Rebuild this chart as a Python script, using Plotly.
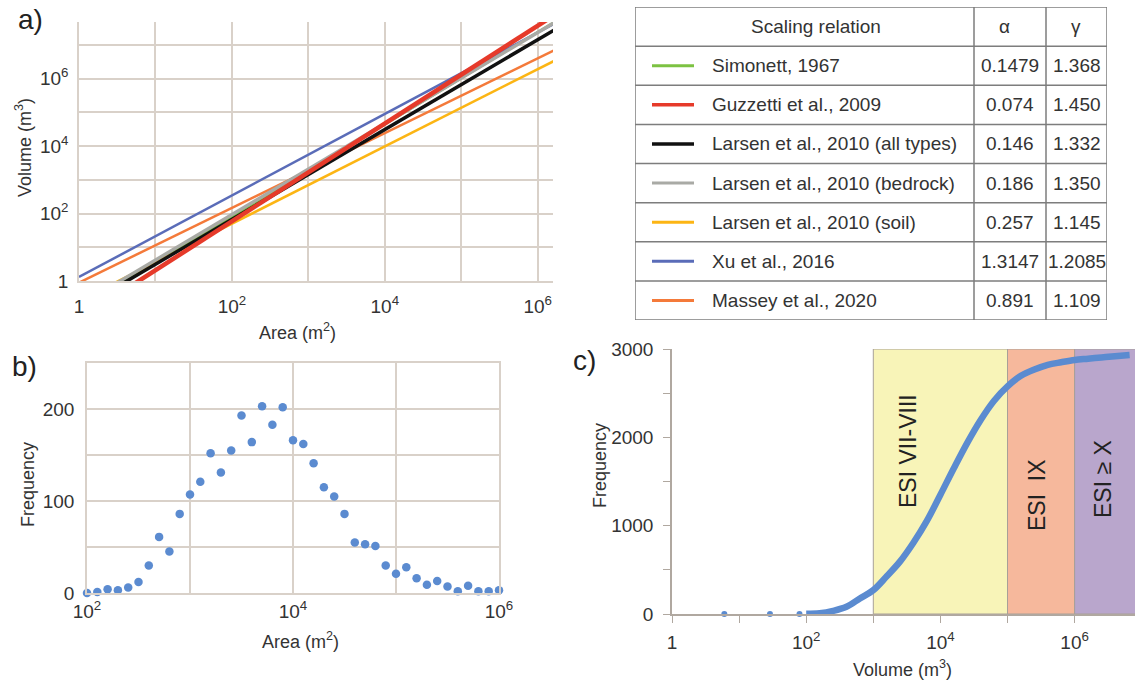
import plotly.graph_objects as go
import numpy as np

W, H = 1135, 684
FONT = "Liberation Sans, Arial, sans-serif"
TXT = "#333333"

# ---------------- data ----------------
relations = ["Simonett, 1967", "Guzzetti et al., 2009", "Larsen et al., 2010 (all types)",
             "Larsen et al., 2010 (bedrock)", "Larsen et al., 2010 (soil)", "Xu et al., 2016",
             "Massey et al., 2020"]
alpha_txt = ["0.1479", "0.074", "0.146", "0.186", "0.257", "1.3147", "0.891"]
gamma_txt = ["1.368", "1.450", "1.332", "1.350", "1.145", "1.2085", "1.109"]
rel_colors = ["#7cc242", "#e63a2a", "#111111", "#a9aaa5", "#fcb514", "#5a6cb8", "#f47a3a"]
rel_widths = [2.5, 4.5, 3.5, 3.5, 2.5, 2.5, 2.5]
draw_order = [0, 4, 6, 5, 3, 2, 1]
area_ends = [1.0, 10 ** 6.25]

# panel b: frequency of landslide area (bins 0.1 decade from 10^2 to 10^6)
area_bin_log = [2.0 + 0.1 * i for i in range(41)]
area_freq = [0, 1, 4, 3, 6, 12, 30, 61, 45, 86, 107, 121, 152, 131, 155, 193, 164, 203, 183, 202,
             166, 162, 141, 115, 105, 86, 55, 53, 51, 30, 21, 28, 16, 9, 13, 7, 2, 8, 2, 2, 3]

# panel c: cumulative frequency vs volume
vol_sparse_log = [0.78, 1.46, 1.90]
vol_sparse_freq = [0, 0, 0]
vol_log = [2.0, 2.2, 2.4, 2.6, 2.8, 3.0, 3.2, 3.4, 3.6, 3.8, 4.0, 4.2, 4.4, 4.6, 4.8, 5.0,
           5.2, 5.4, 5.6, 5.8, 6.0, 6.2, 6.4, 6.6, 6.82]
vol_cum = [2, 8, 35, 82, 176, 270, 427, 596, 810, 1057, 1350, 1650, 1938, 2197, 2415, 2576,
           2696, 2767, 2820, 2850, 2876, 2890, 2904, 2918, 2932]
esi_labels = ["ESI VII-VIII", "ESI\u00a0\u00a0IX", "ESI \u2265 X"]
esi_bounds = [1e3, 1e5, 1e6, 1e8]
esi_colors = ["#f8f4b8", "#f6b89c", "#b9a6cc"]

# ---------------- helpers ----------------
def px_x(p):
    return p / W

def px_y(p):
    return 1 - p / H

fig = go.Figure()

# ---------------- panel a ----------------
for i in draw_order:
    a = float(alpha_txt[i]); g = float(gamma_txt[i])
    xs = np.array(area_ends)
    fig.add_trace(go.Scatter(x=xs, y=a * xs ** g, mode="lines", xaxis="x", yaxis="y",
                             line=dict(color=rel_colors[i], width=rel_widths[i]),
                             hoverinfo="skip", showlegend=False))

# ---------------- panel b ----------------
fig.add_trace(go.Scatter(x=[10 ** v for v in area_bin_log], y=area_freq, mode="markers",
                         xaxis="x2", yaxis="y2", cliponaxis=False,
                         marker=dict(color="#5b8bd0", size=8.5), showlegend=False))

# ---------------- panel c ----------------
for k in range(3):
    fig.add_trace(go.Scatter(x=[esi_bounds[k], esi_bounds[k + 1], esi_bounds[k + 1], esi_bounds[k], esi_bounds[k]],
                             y=[0, 0, 3000, 3000, 0], mode="lines", fill="toself",
                             fillcolor=esi_colors[k], line=dict(color="#a8a098", width=1),
                             xaxis="x3", yaxis="y3", hoverinfo="skip", showlegend=False))
fig.add_trace(go.Scatter(x=[10 ** v for v in vol_log], y=vol_cum, mode="lines",
                         line=dict(color="#5b8bd0", width=6.5, shape="spline"),
                         xaxis="x3", yaxis="y3", showlegend=False))
fig.add_trace(go.Scatter(x=[10 ** v for v in vol_sparse_log], y=vol_sparse_freq, mode="markers",
                         marker=dict(color="#5b8bd0", size=6), cliponaxis=False,
                         xaxis="x3", yaxis="y3", showlegend=False))

# ---------------- table (own axes, pixel units) ----------------
TW = 472
col1, col2 = 339, 411
for i in range(7):
    fig.add_trace(go.Scatter(x=[17, 59], y=[i + 1.5, i + 1.5], mode="lines", xaxis="x4", yaxis="y4",
                             line=dict(color=rel_colors[i], width=3.5 if i in (1, 2) else 3),
                             hoverinfo="skip", showlegend=False))

shapes = []
bc = "#7d7d7d"
shapes.append(dict(type="rect", xref="x4", yref="y4", x0=0, x1=TW, y0=0, y1=8, line=dict(color=bc, width=1.5)))
for r in range(1, 8):
    shapes.append(dict(type="line", xref="x4", yref="y4", x0=0, x1=TW, y0=r, y1=r, line=dict(color=bc, width=1.5)))
for c in (col1, col2):
    shapes.append(dict(type="line", xref="x4", yref="y4", x0=c, x1=c, y0=0, y1=8, line=dict(color=bc, width=1.5)))

ann = []
tf = dict(family=FONT, size=19, color=TXT)
C = dict(showarrow=False, xanchor="center", yanchor="middle")
ann.append(dict(x=181, y=0.5, xref="x4", yref="y4", text="Scaling relation", font=tf, **C))
ann.append(dict(x=369, y=0.5, xref="x4", yref="y4", text="α", font=tf, **C))
ann.append(dict(x=441, y=0.5, xref="x4", yref="y4", text="γ", font=tf, **C))
for i in range(7):
    ann.append(dict(x=75, y=i + 1.5, xref="x4", yref="y4", text=relations[i], showarrow=False,
                    xanchor="left", yanchor="middle", font=tf))
    ann.append(dict(x=375, y=i + 1.5, xref="x4", yref="y4", text=alpha_txt[i], font=tf, **C))
    ann.append(dict(x=441.5, y=i + 1.5, xref="x4", yref="y4", text=gamma_txt[i], font=tf, **C))

# panel labels
lf = dict(family=FONT, size=28, color="#222222")
for t, x, y in [("a)", 30, 20), ("b)", 24, 366), ("c)", 584, 360)]:
    ann.append(dict(x=px_x(x), y=px_y(y), xref="paper", yref="paper", text=t, font=lf, **C))

# axis titles
af = dict(family=FONT, size=18, color=TXT)
for t, x, y, ang in [("Area (m<sup>2</sup>)", 297, 331, 0), ("Volume (m<sup>3</sup>)", 24, 148, -90),
                     ("Area (m<sup>2</sup>)", 300, 640, 0), ("Frequency", 28, 485, -90),
                     ("Volume (m<sup>3</sup>)", 902, 668, 0), ("Frequency", 600, 466, -90)]:
    ann.append(dict(x=px_x(x), y=px_y(y), xref="paper", yref="paper", text=t,
                    font=af, textangle=ang, **C))

# ESI labels
ef = dict(family=FONT, size=23, color="#222222")
for t, x, y in zip(esi_labels, [908, 1037, 1103], [451, 495, 479]):
    ann.append(dict(x=px_x(x), y=px_y(y), xref="paper", yref="paper", text=t,
                    font=ef, textangle=-90, **C))

grid = "#d9d1c9"
tickfont = dict(family=FONT, size=19, color=TXT)

def sup_labels(n, step_show=2):
    out = []
    for k in range(n):
        if k % step_show:
            out.append("")
        elif k == 0:
            out.append("1")
        else:
            out.append("10<sup>%d</sup>" % k)
    return out

common = dict(automargin=False, zeroline=False)
layout = dict(
    template="none",
    width=W, height=H, margin=dict(l=0, r=0, t=0, b=0, pad=0), autosize=False,
    paper_bgcolor="white", plot_bgcolor="rgba(0,0,0,0)",
    font=dict(family=FONT, color=TXT),
    xaxis=dict(type="log", domain=[px_x(79), px_x(553)], range=[0, 6.2], anchor="y",
               tickvals=[10 ** k for k in range(7)], ticktext=sup_labels(7),
               showgrid=True, gridcolor=grid, gridwidth=1.5, showline=True, linecolor=grid, linewidth=1.5,
               ticks="", tickfont=tickfont, ticklabelstandoff=7, **common),
    yaxis=dict(type="log", domain=[px_y(281), px_y(22)], range=[0, 7.68], anchor="x",
               tickvals=[10 ** k for k in range(8)], ticktext=sup_labels(8),
               showgrid=True, gridcolor=grid, gridwidth=1.5, showline=True, linecolor=grid, linewidth=1.5,
               ticks="", tickfont=tickfont, ticklabelstandoff=5, **common),
    xaxis2=dict(type="log", domain=[px_x(87), px_x(499)], range=[2, 6], anchor="y2",
                tickvals=[10 ** k for k in range(2, 7)], ticktext=["10<sup>2</sup>", "", "10<sup>4</sup>", "", "10<sup>6</sup>"],
                showgrid=True, gridcolor=grid, gridwidth=1.5, showline=True, mirror=True, linecolor=grid, linewidth=1.5,
                ticks="", tickfont=tickfont, ticklabelstandoff=0, **common),
    yaxis2=dict(domain=[px_y(593), px_y(363)], range=[0, 250], anchor="x2",
                tickvals=[0, 50, 100, 150, 200, 250], ticktext=["0", "", "100", "", "200", ""],
                showgrid=True, gridcolor=grid, gridwidth=1.5, showline=True, mirror=True, linecolor=grid, linewidth=1.5,
                ticks="", tickfont=tickfont, ticklabelstandoff=7, **common),
    xaxis3=dict(type="log", domain=[px_x(672), px_x(1135)], range=[0, 6.9], anchor="y3",
                tickvals=[10 ** k for k in range(7)], ticktext=sup_labels(7),
                showgrid=False, showline=True, linecolor="#b0a8a0", linewidth=1.5,
                ticks="outside", ticklen=7, tickcolor="#b0a8a0", tickwidth=1.2,
                tickfont=tickfont, ticklabelstandoff=3, **common),
    yaxis3=dict(domain=[px_y(614), px_y(349)], range=[0, 3000], anchor="x3",
                tickvals=[0, 500, 1000, 1500, 2000, 2500, 3000], ticktext=["0", "", "1000", "", "2000", "", "3000"],
                showgrid=False, showline=True, linecolor="#b0a8a0", linewidth=1.5,
                ticks="outside", ticklen=7, tickcolor="#b0a8a0", tickwidth=1.2,
                tickfont=tickfont, ticklabelstandoff=6, **common),
    xaxis4=dict(domain=[px_x(635), px_x(1107)], range=[0, TW], anchor="y4", visible=False, fixedrange=True, **common),
    yaxis4=dict(domain=[px_y(320), px_y(7)], range=[8, 0], anchor="x4", visible=False, fixedrange=True, **common),
    shapes=shapes, annotations=ann, showlegend=False,
)
fig.update_layout(**layout)
fig.write_html("out.html", config={"displayModeBar": False},
               post_script="document.body.style.margin='0';document.body.style.padding='0';document.body.style.overflow='hidden';")
